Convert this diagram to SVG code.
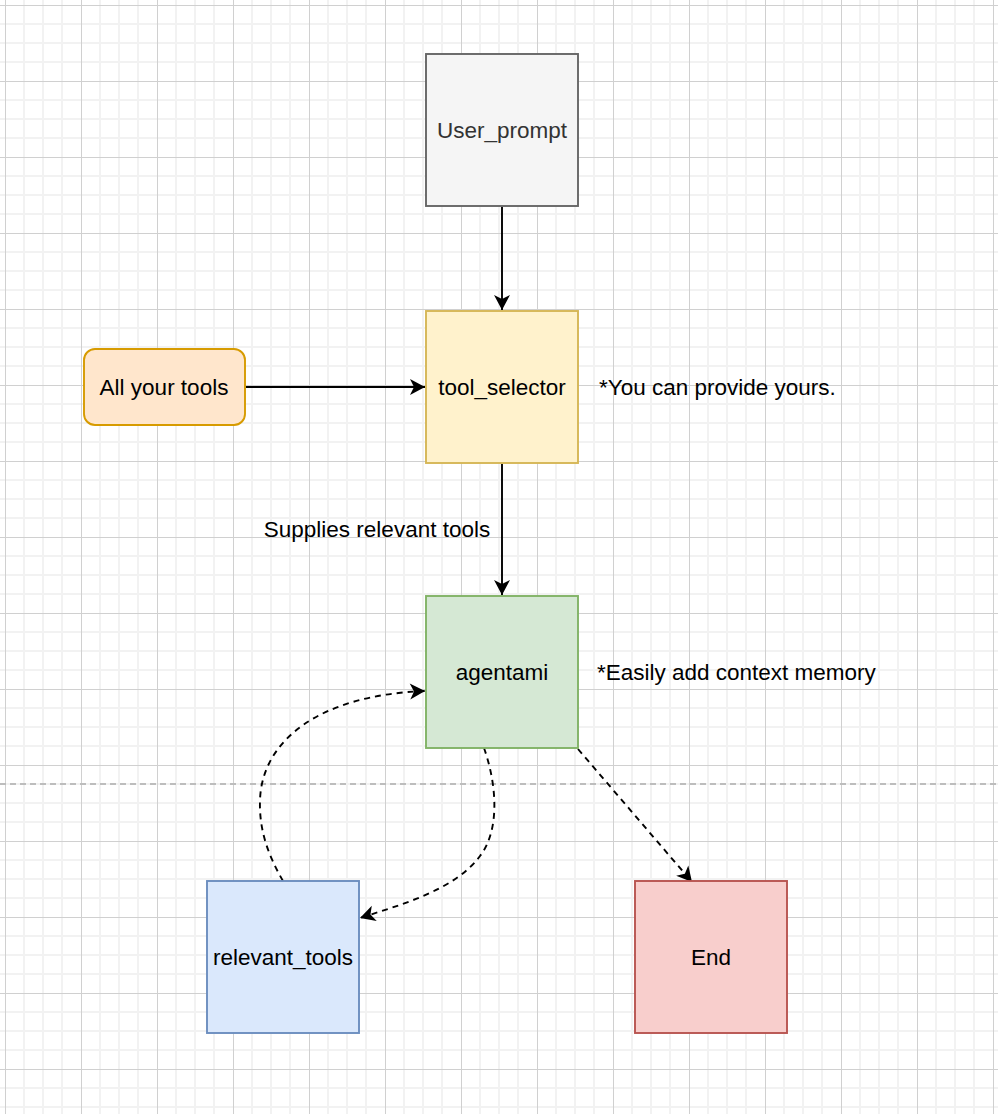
<svg xmlns="http://www.w3.org/2000/svg" width="998" height="1114" viewBox="0 0 998 1114">
  <style>
    .box { stroke-width: 1.9; }
    .lbl { font-family: "Liberation Sans", Arial, sans-serif; font-size: 22.5px; fill: #000000; }
    .mid { text-anchor: middle; }
    .edge { fill: none; stroke: #000000; stroke-width: 1.9; }
    .dash { stroke-dasharray: 6 5; }
  </style>
  <defs>
    <!-- background grid: minor every 19px, major every 76px -->
    <pattern id="grid" x="5" y="5" width="76" height="76" patternUnits="userSpaceOnUse">
      <rect x="18" y="0" width="2" height="76" fill="#f2f2f2"/>
      <rect x="37" y="0" width="2" height="76" fill="#f2f2f2"/>
      <rect x="56" y="0" width="2" height="76" fill="#f2f2f2"/>
      <rect x="0" y="18" width="76" height="2" fill="#f2f2f2"/>
      <rect x="0" y="37" width="76" height="2" fill="#f2f2f2"/>
      <rect x="0" y="56" width="76" height="2" fill="#f2f2f2"/>
      <rect x="0" y="0" width="1" height="76" fill="#d0d0d0"/>
      <rect x="0" y="0" width="76" height="1" fill="#d0d0d0"/>
    </pattern>
    <marker id="arrow" viewBox="-16 -9 17 18" refX="0" refY="0" markerWidth="17" markerHeight="18" markerUnits="userSpaceOnUse" orient="auto">
      <path d="M0,0 L-15,-8 L-11,0 L-15,8 Z" fill="#000000" stroke="none"/>
    </marker>
  </defs>

  <rect x="0" y="0" width="998" height="1114" fill="#ffffff"/>
  <rect x="0" y="0" width="998" height="1114" fill="url(#grid)"/>

  <!-- divider -->
  <line x1="0" y1="784" x2="998" y2="784" stroke="#bdbdbd" stroke-width="1.9" stroke-dasharray="6 4"/>

  <g id="connectors">
    <line class="edge" x1="502" y1="207" x2="502" y2="310" marker-end="url(#arrow)"/>
    <line class="edge" x1="246" y1="387" x2="425" y2="387" marker-end="url(#arrow)"/>
    <line class="edge" x1="502" y1="464" x2="502" y2="595" marker-end="url(#arrow)"/>
    <path class="edge dash" d="M283,881 C268,855 259,830 260,800 C262,740 320,695 425,691" marker-end="url(#arrow)"/>
    <path class="edge dash" d="M484,748 C497,785 500,830 480,856 C455,890 400,905 360,918" marker-end="url(#arrow)"/>
    <line class="edge dash" x1="578" y1="749" x2="692" y2="882" marker-end="url(#arrow)"/>
    <text class="lbl mid" x="377" y="537">Supplies relevant tools</text>
  </g>

  <g id="user_prompt">
    <rect class="box" x="426" y="54" width="152" height="152" fill="#f5f5f5" stroke="#666666"/>
    <text class="lbl mid" x="502" y="138" style="fill:#333333">User_prompt</text>
  </g>

  <g id="tool_selector">
    <rect class="box" x="426" y="311" width="152" height="152" fill="#fff2cc" stroke="#d6b656"/>
    <text class="lbl mid" x="502" y="395">tool_selector</text>
  </g>

  <g id="all_tools">
    <rect class="box" x="84" y="349" width="161" height="76" rx="11" ry="11" fill="#ffe6cc" stroke="#d79b00"/>
    <text class="lbl mid" x="164" y="395">All your tools</text>
  </g>

  <g id="note_tools">
    <text class="lbl" x="599" y="395">*You can provide yours.</text>
  </g>

  <g id="agentami">
    <rect class="box" x="426" y="596" width="152" height="152" fill="#d5e8d4" stroke="#82b366"/>
    <text class="lbl mid" x="502" y="680">agentami</text>
  </g>

  <g id="note_memory">
    <text class="lbl" x="597" y="680">*Easily add context memory</text>
  </g>

  <g id="relevant_tools">
    <rect class="box" x="207" y="881" width="152" height="152" fill="#dae8fc" stroke="#6c8ebf"/>
    <text class="lbl mid" x="283" y="965">relevant_tools</text>
  </g>

  <g id="end">
    <rect class="box" x="635" y="881" width="152" height="152" fill="#f8cecc" stroke="#b85450"/>
    <text class="lbl mid" x="711" y="965">End</text>
  </g>
</svg>
